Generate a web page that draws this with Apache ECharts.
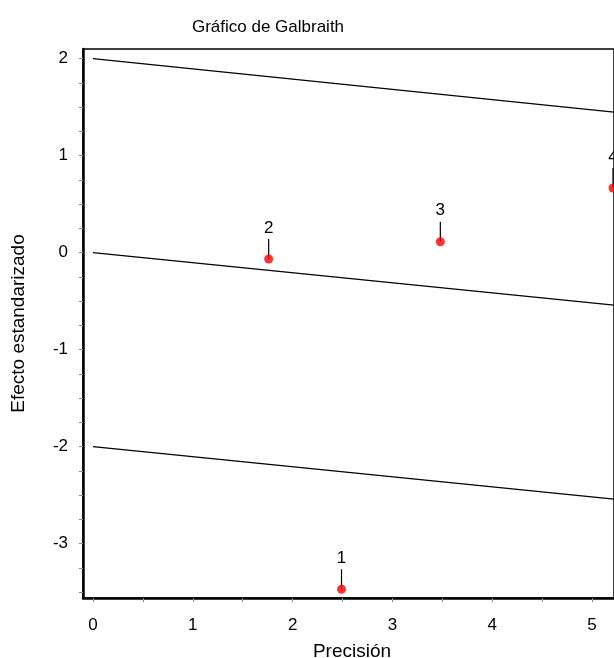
<!DOCTYPE html>
<html>
<head>
<meta charset="utf-8">
<script src="https://cdn.jsdelivr.net/npm/echarts@6/dist/echarts.min.js"></script>
<style>
  html, body { margin: 0; padding: 0; background: #fff; }
  #chart { width: 614px; height: 658px; }
</style>
</head>
<body>
<div id="chart"></div>
<script>
// studies: precision (x) and standardised effect (y)
var studyLabels = ['1', '2', '3', '4'];
var precision = [2.49, 1.76, 3.48, 5.21];
var stdEffect = [-3.47, -0.065, 0.113, 0.667];

// regression line through origin and +/-2 bands (end points)
var lineX = [0, 5.22];
var upperLine = [2, 1.45];
var centerLine = [0, -0.54];
var lowerLine = [-2, -2.54];

var xLabels = [0, 1, 2, 3, 4, 5];
var xTicks = [0, 0.5, 1, 1.5, 2, 2.5, 3, 3.5, 4, 4.5, 5];
var yLabels = [-3, -2, -1, 0, 1, 2];
var yTicks = [-3.5, -3.25, -3, -2.75, -2.5, -2.25, -2, -1.75, -1.5, -1.25, -1, -0.75, -0.5, -0.25,
              0, 0.25, 0.5, 0.75, 1, 1.25, 1.5, 1.75, 2];

var font = '"Liberation Sans", Arial, sans-serif';

function pairs(xs, ys) {
  return xs.map(function (x, i) { return [x, ys[i]]; });
}

var points = precision.map(function (x, i) { return [x, stdEffect[i], studyLabels[i]]; });

function refLine(data) {
  return {
    type: 'line',
    data: pairs(lineX, data),
    symbol: 'none',
    silent: true,
    clip: true,
    lineStyle: { color: '#000', width: 1.2 },
    z: 2
  };
}

var chart = echarts.init(document.getElementById('chart'));
chart.setOption({
  animation: false,
  backgroundColor: '#fff',
  textStyle: { fontFamily: font },
  grid: {
    left: 83, top: 49, right: 0, height: 549,
    containLabel: false, outerBoundsMode: 'none',
    show: true, borderColor: '#000', borderWidth: 1.5, backgroundColor: 'transparent'
  },
  graphic: [
    {
      type: 'text', x: 268, y: 27,
      style: { text: 'Gráfico de Galbraith', font: '17px ' + font, fill: '#000',
               textAlign: 'center', textVerticalAlign: 'middle' }
    },
    {
      type: 'text', x: 352, y: 652,
      style: { text: 'Precisión', font: '19px ' + font, fill: '#000',
               textAlign: 'center', textVerticalAlign: 'middle' }
    }
  ],
  xAxis: {
    type: 'value', min: -0.1, max: 5.22,
    splitLine: { show: false },
    axisLine: { show: true, onZero: false, lineStyle: { color: '#000', width: 2.5 } },
    axisTick: { show: true, customValues: xTicks, length: 4, lineStyle: { color: '#888' } },
    axisLabel: { customValues: xLabels, margin: 19, color: '#000', fontSize: 17, fontFamily: font }
  },
  yAxis: {
    type: 'value', min: -3.56, max: 2.1,
    name: 'Efecto estandarizado', nameLocation: 'middle', nameGap: 55,
    nameTextStyle: { color: '#000', fontSize: 19, fontFamily: font },
    splitLine: { show: false },
    axisLine: { show: true, onZero: false, lineStyle: { color: '#000', width: 2.5 } },
    axisTick: { show: true, customValues: yTicks, length: 4, lineStyle: { color: '#888' } },
    axisLabel: { customValues: yLabels, margin: 15, color: '#000', fontSize: 17, fontFamily: font }
  },
  series: [
    refLine(upperLine),
    refLine(centerLine),
    refLine(lowerLine),
    {
      type: 'custom',
      data: points,
      clip: false,
      z: 3,
      renderItem: function (params, api) {
        var p = api.coord([api.value(0), api.value(1)]);
        return {
          type: 'group',
          children: [
            { type: 'line', shape: { x1: p[0], y1: p[1] - 20, x2: p[0], y2: p[1] },
              style: { stroke: '#000', lineWidth: 1.2 } },
            { type: 'text', x: p[0], y: p[1] - 31,
              style: { text: api.value(2), font: '17px ' + font, fill: '#000',
                       textAlign: 'center', textVerticalAlign: 'middle' } }
          ]
        };
      }
    },
    {
      type: 'scatter',
      data: points,
      clip: false,
      symbol: 'circle',
      symbolSize: 9,
      itemStyle: { color: '#ff0000' },
      z: 4
    }
  ]
});
</script>
</body>
</html>
